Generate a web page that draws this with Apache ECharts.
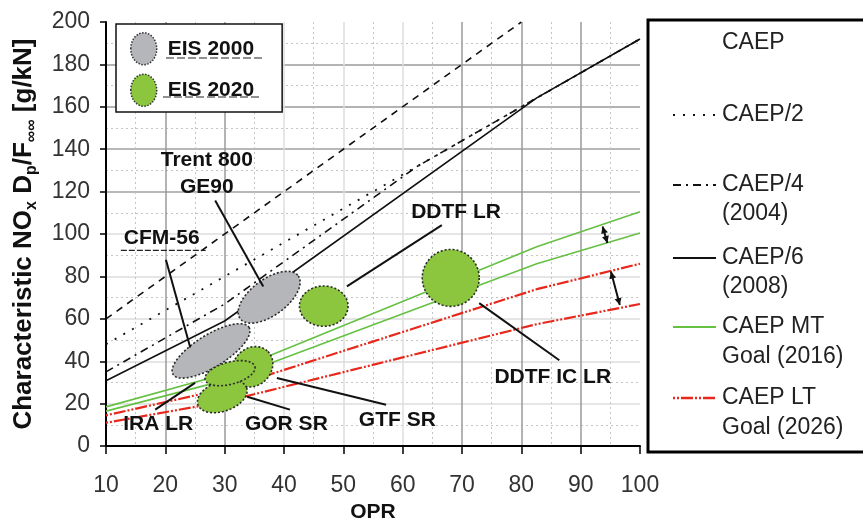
<!DOCTYPE html>
<html>
<head>
<meta charset="utf-8">
<script src="https://cdn.jsdelivr.net/npm/echarts@6/dist/echarts.min.js"></script>
<style>html,body{margin:0;padding:0;background:#fff;}#c{width:863px;height:528px;}</style>
</head>
<body>
<div id="c"></div>
<script>
// ---------------- data ----------------
const xTicks = [10, 20, 30, 40, 50, 60, 70, 80, 90, 100];
const yTicks = [0, 20, 40, 60, 80, 100, 120, 140, 160, 180, 200];

const caepOPR = [10, 80];
const caepVal = [60, 200];
const caep2OPR = [10, 100];
const caep2Val = [48, 192];
const caep4OPR = [10, 30, 62.5, 100];
const caep4Val = [35, 67, 132, 192];
const caep6OPR = [10, 30, 82.6, 100];
const caep6Val = [30.8, 59.0, 164.2, 192];
const goalOPR = [10, 30, 82.6, 100];
const mtUpper = [18.5, 34, 94, 110.5];
const mtLower = [16.5, 31, 86, 100.5];
const ltUpper = [14.5, 27, 74, 86];
const ltLower = [11, 21, 57.5, 67];

// ellipses: centre (OPR, value), end of major semi-axis (OPR, value), minor/major ratio
const eis2000CX = [27.7, 37.5];
const eis2000CY = [44.9, 70.2];
const eis2000EX = [34.1, 42.4];
const eis2000EY = [56.0, 80.3];
const eis2000R  = [0.36, 0.5];

const eis2020CX = [34.7, 29.6, 30.9, 46.7, 68.1];
const eis2020CY = [37.4, 23.5, 34.4, 66.0, 79.3];
const eis2020EX = [37.3, 33.7, 35.1, 50.8, 72.9];
const eis2020EY = [44.6, 27.5, 37.5, 66.0, 79.3];
const eis2020R  = [0.86, 0.58, 0.43, 0.83, 1.0];

const annotationNames = ['Trent 800', 'GE90', 'CFM-56', 'DDTF LR', 'DDTF IC LR', 'GTF SR', 'GOR SR', 'IRA LR'];
const annotationX = [27.0, 27.0, 19.4, 69.0, 85.3, 59.1, 40.4, 18.8];
const annotationY = [135.0, 121.9, 98.0, 110.2, 32.7, 12.2, 10.2, 10.2];
const annotationUnderline = [0, 0, 1, 0, 0, 0, 0, 0];

const leaderX1 = [28.4, 20.1, 50.6, 72.9, 38.8, 33.8, 18.3];
const leaderY1 = [115.8, 87.9, 75.3, 67.4, 32.1, 23.3, 17.2];
const leaderX2 = [36.5, 24.2, 66.6, 86.4, 57.2, 41.0, 25.0];
const leaderY2 = [75.3, 46.5, 104.2, 40.5, 19.5, 17.2, 29.8];

const arrowX1 = [93.7, 95.1];
const arrowY1 = [103.6, 82.3];
const arrowX2 = [94.5, 96.6];
const arrowY2 = [95.8, 66.5];

// ---------------- helpers ----------------
const FONT = 'Liberation Sans, Arial, Helvetica, sans-serif';
const LABEL_FONT = 'bold 21px ' + FONT;
const zip = (a, b) => a.map((v, i) => [v, b[i]]);
const mctx = document.createElement('canvas').getContext('2d');
function textWidth(t, f) { mctx.font = f; return mctx.measureText(t).width; }

function renderEllipse(params, api) {
  const c = api.coord([api.value(0), api.value(1)]);
  const e = api.coord([api.value(2), api.value(3)]);
  const dx = e[0] - c[0], dy = e[1] - c[1];
  const a = Math.hypot(dx, dy), ang = Math.atan2(dy, dx), b = a * api.value(4);
  const pts = [];
  for (let k = 0; k < 80; k++) {
    const t = k / 80 * 2 * Math.PI;
    const px = a * Math.cos(t), py = b * Math.sin(t);
    pts.push([c[0] + px * Math.cos(ang) - py * Math.sin(ang), c[1] + px * Math.sin(ang) + py * Math.cos(ang)]);
  }
  return {type: 'polygon', shape: {points: pts},
    style: {fill: api.visual('color'), stroke: '#2a2a2a', lineWidth: 1.6, lineDash: [2, 2]}};
}
function renderLeader(params, api) {
  const p1 = api.coord([api.value(0), api.value(1)]);
  const p2 = api.coord([api.value(2), api.value(3)]);
  return {type: 'line', shape: {x1: p1[0], y1: p1[1], x2: p2[0], y2: p2[1]},
    style: {stroke: '#111', lineWidth: 2}};
}
function head(tip, from) {
  const ang = Math.atan2(tip[1] - from[1], tip[0] - from[0]);
  const L = 7, W = 3.5;
  const bx = tip[0] - L * Math.cos(ang), by = tip[1] - L * Math.sin(ang);
  return {type: 'polygon', shape: {points: [tip,
    [bx + W * Math.sin(ang), by - W * Math.cos(ang)],
    [bx - W * Math.sin(ang), by + W * Math.cos(ang)]]}, style: {fill: '#111'}};
}
function renderArrow(params, api) {
  const p1 = api.coord([api.value(0), api.value(1)]);
  const p2 = api.coord([api.value(2), api.value(3)]);
  return {type: 'group', children: [
    {type: 'line', shape: {x1: p1[0], y1: p1[1], x2: p2[0], y2: p2[1]}, style: {stroke: '#111', lineWidth: 2}},
    head(p1, p2), head(p2, p1)]};
}
function renderLabel(params, api) {
  const i = params.dataIndex;
  const p = api.coord([api.value(0), api.value(1)]);
  const txt = annotationNames[i];
  const children = [{type: 'text', x: p[0], y: p[1],
    style: {text: txt, font: LABEL_FONT, fill: '#111', align: 'center', verticalAlign: 'middle'}}];
  if (annotationUnderline[i]) {
    const w = textWidth(txt, LABEL_FONT);
    children.push({type: 'line', shape: {x1: p[0] - w / 2 - 3, y1: p[1] + 12, x2: p[0] + w / 2 + 6, y2: p[1] + 12},
      style: {stroke: '#222', lineWidth: 1.2, lineDash: [6, 2]}});
  }
  return {type: 'group', children: children};
}

const black = '#111';
const green = '#66c044';
const red = '#e8281c';
const ltDash = [2, 2, 2, 2, 12, 2];

const series = [
  {name: 'CAEP', type: 'line', data: zip(caepOPR, caepVal), showSymbol: false, z: 2,
   lineStyle: {color: black, width: 1.6, type: [7, 6]}},
  {name: 'CAEP/2', type: 'line', data: zip(caep2OPR, caep2Val), showSymbol: false, z: 2,
   lineStyle: {color: black, width: 1.8, type: [2, 8]}},
  {name: 'CAEP/4 (2004)', type: 'line', data: zip(caep4OPR, caep4Val), showSymbol: false, z: 2,
   lineStyle: {color: black, width: 1.6, type: [8, 5, 2, 5]}},
  {name: 'CAEP/6 (2008)', type: 'line', data: zip(caep6OPR, caep6Val), showSymbol: false, z: 2,
   lineStyle: {color: black, width: 1.6}},
  {name: 'CAEP MT Goal (2016)', type: 'line', data: zip(goalOPR, mtUpper), showSymbol: false, z: 2,
   lineStyle: {color: green, width: 1.6}},
  {name: 'CAEP MT Goal (2016)', type: 'line', data: zip(goalOPR, mtLower), showSymbol: false, z: 2,
   lineStyle: {color: green, width: 1.6}},
  {name: 'CAEP LT Goal (2026)', type: 'line', data: zip(goalOPR, ltUpper), showSymbol: false, z: 2,
   lineStyle: {color: red, width: 2.2, type: ltDash}},
  {name: 'CAEP LT Goal (2026)', type: 'line', data: zip(goalOPR, ltLower), showSymbol: false, z: 2,
   lineStyle: {color: red, width: 2.2, type: ltDash}},
  {name: 'EIS 2000', type: 'custom', renderItem: renderEllipse, z: 3,
   itemStyle: {color: '#b5b6ba'}, encode: {x: [0, 2], y: [1, 3]},
   data: eis2000CX.map((v, i) => [v, eis2000CY[i], eis2000EX[i], eis2000EY[i], eis2000R[i]])},
  {name: 'EIS 2020', type: 'custom', renderItem: renderEllipse, z: 3,
   itemStyle: {color: '#8cc63e'}, encode: {x: [0, 2], y: [1, 3]},
   data: eis2020CX.map((v, i) => [v, eis2020CY[i], eis2020EX[i], eis2020EY[i], eis2020R[i]])},
  {name: 'leaders', type: 'custom', renderItem: renderLeader, z: 4, silent: true,
   encode: {x: [0, 2], y: [1, 3]},
   data: leaderX1.map((v, i) => [v, leaderY1[i], leaderX2[i], leaderY2[i]])},
  {name: 'arrows', type: 'custom', renderItem: renderArrow, z: 4, silent: true,
   encode: {x: [0, 2], y: [1, 3]},
   data: arrowX1.map((v, i) => [v, arrowY1[i], arrowX2[i], arrowY2[i]])},
  {name: 'labels', type: 'custom', renderItem: renderLabel, z: 5, silent: true, clip: false,
   encode: {x: 0, y: 1},
   data: annotationX.map((v, i) => [v, annotationY[i]])}
];

// right-hand legend (graphic)
const LX = 722, SX1 = 673, SX2 = 716;
const legText = (t, y) => ({type: 'text', x: LX, y: y,
  style: {text: t, font: '23px ' + FONT, fill: '#222', verticalAlign: 'middle'}});
const legLine = (y, stroke, width, dash) => ({type: 'line', shape: {x1: SX1, y1: y, x2: SX2, y2: y},
  style: {stroke: stroke, lineWidth: width, lineDash: dash}});

const graphic = [
  {type: 'rect', shape: {x: 648, y: 20, width: 300, height: 432},
   style: {fill: '#fff', stroke: '#000', lineWidth: 3}, z: 10},
  legText('CAEP', 43), legText('CAEP/2', 115),
  legText('CAEP/4', 185), legText('(2004)', 214),
  legText('CAEP/6', 258), legText('(2008)', 287),
  legText('CAEP MT', 327), legText('Goal (2016)', 357),
  legText('CAEP LT', 398), legText('Goal (2026)', 428),
  legLine(115, black, 1.8, [2, 8]),
  legLine(185, black, 1.8, [8, 5, 2, 5]),
  legLine(258, black, 1.8, null),
  legLine(327, green, 2, null),
  legLine(398, red, 2.4, ltDash),
  // underlines of the inset legend
  {type: 'line', shape: {x1: 166, y1: 58, x2: 262, y2: 58}, style: {stroke: '#222', lineWidth: 1, lineDash: [8, 3]}, z: 20},
  {type: 'line', shape: {x1: 163, y1: 97, x2: 262, y2: 97}, style: {stroke: '#222', lineWidth: 1, lineDash: [8, 3]}, z: 20}
].map(g => Object.assign({z: 10}, g));

const xColors = ['rgba(0,0,0,0)', '#9a9a9a', '#9a9a9a', '#dedede', '#dedede', '#dedede', '#9a9a9a', '#9a9a9a', '#9a9a9a', 'rgba(0,0,0,0)'];
const yColors = ['rgba(0,0,0,0)', '#dcdcdc', '#dcdcdc', '#dcdcdc', '#dcdcdc', '#dcdcdc', '#a0a0a0', '#a0a0a0', '#9a9a9a', '#9a9a9a', 'rgba(0,0,0,0)'];

const option = {
  animation: false,
  backgroundColor: '#fff',
  grid: {left: 106, right: 223, top: 22, bottom: 76},
  legend: {
    data: [
      {name: 'EIS 2000', itemStyle: {color: '#b5b6ba', borderColor: '#333', borderWidth: 1.5, borderType: 'dotted'}},
      {name: 'EIS 2020', itemStyle: {color: '#8cc63e', borderColor: '#333', borderWidth: 1.5, borderType: 'dotted'}}
    ],
    orient: 'vertical', left: 116, top: 24,
    padding: [8, 28, 5, 14], itemGap: 8, itemWidth: 26, itemHeight: 32,
    icon: 'path://M0,16 C0,7 6,0 13,0 C20,0 26,7 26,16 C26,25 20,32 13,32 C6,32 0,25 0,16 Z',
    borderColor: '#111', borderWidth: 1.5, backgroundColor: '#fff',
    textStyle: {fontFamily: FONT, fontWeight: 'bold', fontSize: 21, color: '#111', padding: [0, 0, 0, 6]},
    selectedMode: false
  },
  xAxis: {
    type: 'value', min: xTicks[0], max: xTicks[xTicks.length - 1], interval: 10,
    name: 'OPR', nameLocation: 'middle', nameGap: 52,
    nameTextStyle: {fontFamily: FONT, fontWeight: 'bold', fontSize: 21, color: '#111'},
    axisLine: {lineStyle: {color: '#000', width: 2}},
    axisTick: {length: 8, lineStyle: {color: '#000', width: 1.5}},
    axisLabel: {fontFamily: FONT, fontSize: 23, color: '#333', margin: 28},
    splitLine: {show: true, lineStyle: {color: xColors, width: 1.5}},
    minorTick: {show: false, splitNumber: 2},
    minorSplitLine: {show: true, lineStyle: {color: '#c4c4c4', width: 1, type: [2, 3]}}
  },
  yAxis: {
    type: 'value', min: yTicks[0], max: yTicks[yTicks.length - 1], interval: 20,
    name: '{b|Characteristic NO}{s|x}{b| D}{s|p}{b|/F}{s|∞∞}{b| [g/kN]}',
    nameLocation: 'middle', nameGap: 66, nameRotate: 90,
    nameTextStyle: {
      rich: {
        b: {fontFamily: FONT, fontWeight: 'bold', fontSize: 26, color: '#111', lineHeight: 32},
        s: {fontFamily: FONT, fontWeight: 'bold', fontSize: 16, color: '#111', lineHeight: 12, verticalAlign: 'bottom'}
      }
    },
    axisLine: {show: true, lineStyle: {color: '#000', width: 2}},
    axisTick: {show: true, length: 6, lineStyle: {color: '#000', width: 1.5}},
    axisLabel: {fontFamily: FONT, fontSize: 23, color: '#333', margin: 16},
    splitLine: {show: true, lineStyle: {color: yColors, width: 1.5}},
    minorTick: {show: false, splitNumber: 2},
    minorSplitLine: {show: true, lineStyle: {color: '#c4c4c4', width: 1, type: [2, 3]}}
  },
  graphic: graphic,
  series: series
};

const chart = echarts.init(document.getElementById('c'), null, {renderer: 'canvas'});
chart.setOption(option);
</script>
</body>
</html>
